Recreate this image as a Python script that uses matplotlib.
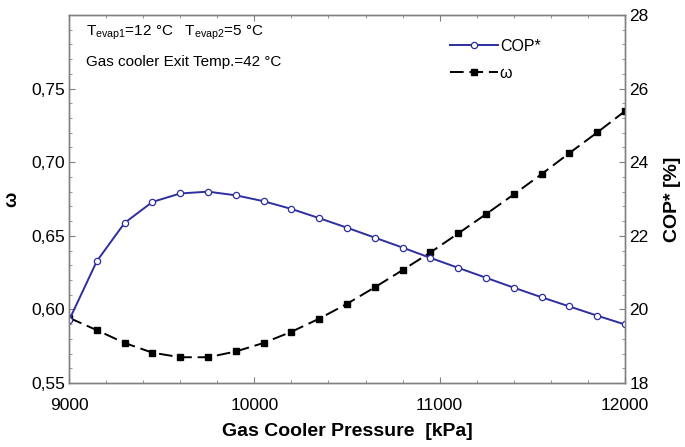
import numpy as np
import matplotlib
matplotlib.use('Agg')
import matplotlib.pyplot as plt
from matplotlib.ticker import MultipleLocator

plt.rcParams['font.family'] = ['Liberation Sans', 'DejaVu Sans']
plt.rcParams['mathtext.fontset'] = 'custom'
plt.rcParams['mathtext.rm'] = 'Liberation Sans'
plt.rcParams['mathtext.it'] = 'Liberation Sans:italic'

# 数据
pressure = [9000, 9150, 9300, 9450, 9600, 9750, 9900, 10050, 10200, 10350, 10500,
            10650, 10800, 10950, 11100, 11250, 11400, 11550, 11700, 11850, 12000]
cop = [19.70, 21.31, 22.35, 22.92, 23.15, 23.20, 23.10, 22.94, 22.73, 22.48, 22.22,
       21.95, 21.68, 21.40, 21.13, 20.86, 20.59, 20.33, 20.08, 19.83, 19.59]
omega = [0.5943, 0.5859, 0.5772, 0.5706, 0.5675, 0.5675, 0.5714, 0.5772, 0.5848, 0.5937, 0.6038,
         0.6150, 0.6267, 0.6387, 0.6516, 0.6647, 0.6781, 0.6919, 0.7062, 0.7202, 0.7347]
x_ticks = [9000, 10000, 11000, 12000]
omega_ticks = [0.55, 0.60, 0.65, 0.70, 0.75]
omega_ticklabels = ['0,55', '0,60', '0,65', '0,70', '0,75']
cop_ticks = [18, 20, 22, 24, 26, 28]

spine_c = '#808080'
blue = '#2e2e9e'

fig = plt.figure(figsize=(6.85, 4.47), dpi=100)
ax = fig.add_axes([69 / 685, 1 - 383 / 447, 556 / 685, 368 / 447])
ax2 = ax.twinx()

# ω 曲线
l1, = ax.plot(pressure, omega, color='black', lw=1.4, dashes=(7, 3),
              marker='s', markersize=5, markerfacecolor='black', markeredgecolor='black', zorder=3)
# COP* 曲线
l2, = ax2.plot(pressure, cop, color=blue, lw=1.4,
               marker='o', markersize=4.5, markerfacecolor='white', markeredgecolor=blue, markeredgewidth=0.9)

ax.set_xlim(9000, 12000)
ax.set_ylim(0.55, 0.80)
ax2.set_ylim(18, 28)

ax.set_xticks(x_ticks)
ax.xaxis.set_minor_locator(MultipleLocator(200))
ax.set_yticks(omega_ticks)
ax.set_yticklabels(omega_ticklabels)
ax.yaxis.set_minor_locator(MultipleLocator(0.01))
ax2.set_yticks(cop_ticks)
ax2.yaxis.set_minor_locator(MultipleLocator(0.4))

for a in (ax, ax2):
    for s in a.spines.values():
        s.set_color(spine_c)
        s.set_linewidth(1.0)
ax.tick_params(which='both', direction='in', top=True, color=spine_c, labelsize=12.5, pad=3)
ax.tick_params(axis='x', which='both', pad=11)
ax.tick_params(which='major', length=4)
ax.tick_params(which='minor', length=2.5)
ax2.tick_params(which='both', direction='in', color=spine_c, labelsize=12.5, pad=3)
ax2.tick_params(which='major', length=4)
ax2.tick_params(which='minor', length=2.5)

ax.set_xlabel('Gas Cooler Pressure  [kPa]', fontsize=14, fontweight='bold', labelpad=7)
ax.set_ylabel('ω', fontsize=13, fontweight='bold', labelpad=8)
ax2.set_ylabel('COP* [%]', fontsize=14, fontweight='bold', labelpad=11)

ax.text(0.03, 0.951, r'T$_{\rm evap1}$=12 °C   T$_{\rm evap2}$=5 °C', transform=ax.transAxes,
        fontsize=11, va='center', ha='left')
ax.text(0.03, 0.872, 'Gas cooler Exit Temp.=42 °C', transform=ax.transAxes,
        fontsize=11, va='center', ha='left')

ax2.legend([l2, l1], ['COP*', 'ω'], loc='upper left', bbox_to_anchor=(0.66, 0.975),
           frameon=False, fontsize=11.5, handlelength=3.0, handletextpad=0.1, labelspacing=0.75)

fig.savefig('out.png', dpi=100)
